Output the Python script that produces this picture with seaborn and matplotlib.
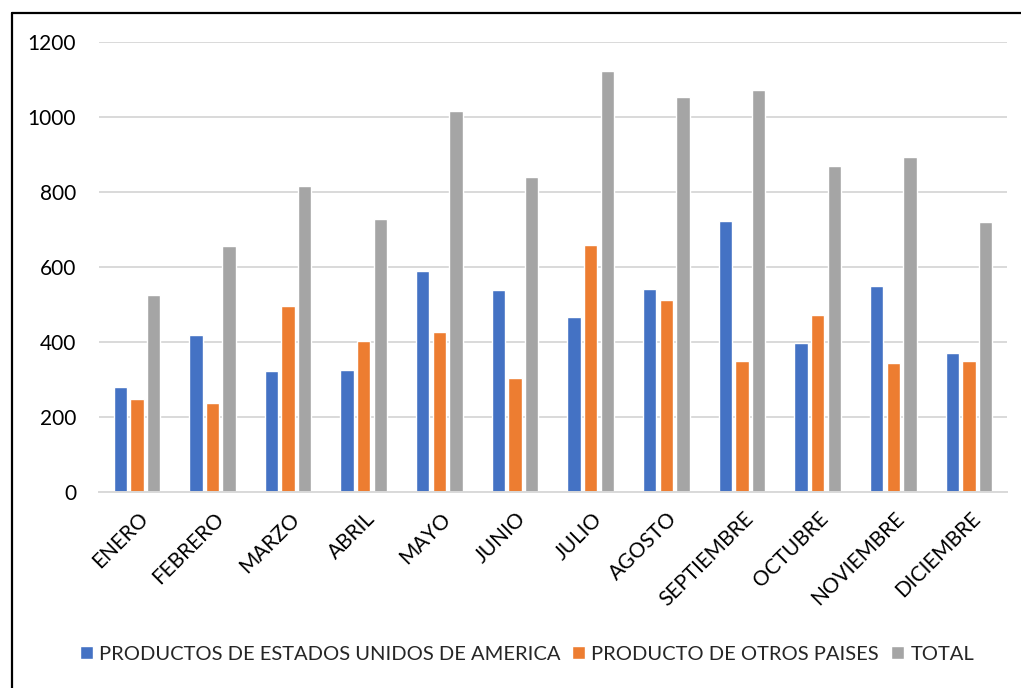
import numpy as np
import pandas as pd
import matplotlib
matplotlib.use("Agg")
import matplotlib.pyplot as plt
import matplotlib.transforms as mtransforms
from matplotlib.lines import Line2D
import seaborn as sns

# ── data ─────────────────────────────────────────────────────────────────────
meses = ["ENERO", "FEBRERO", "MARZO", "ABRIL", "MAYO", "JUNIO", "JULIO",
         "AGOSTO", "SEPTIEMBRE", "OCTUBRE", "NOVIEMBRE", "DICIEMBRE"]
usa = [279, 418, 321, 325, 589, 538, 466, 542, 724, 396, 550, 370]
otros = [247, 238, 495, 402, 427, 304, 659, 511, 348, 473, 344, 349]
total = [526, 655, 816, 727, 1017, 841, 1123, 1053, 1072, 870, 895, 719]
series = ["PRODUCTOS DE ESTADOS UNIDOS DE AMERICA",
          "PRODUCTO DE OTROS PAISES", "TOTAL"]
y_ticks = [0, 200, 400, 600, 800, 1000, 1200]

COLORS = ["#4472C4", "#ED7D31", "#A5A5A5"]

df = pd.DataFrame({"mes": meses * 3,
                   "serie": np.repeat(series, len(meses)),
                   "valor": usa + otros + total})

sns.set_theme(style="white")
plt.rcParams["font.family"] = ["Lato", "DejaVu Sans"]

fig = plt.figure(figsize=(10.21, 6.88), dpi=100)
ax = fig.add_axes([0.097, 0.2853, 0.889, 0.6532])

sns.barplot(data=df, x="mes", y="valor", hue="serie", order=meses,
            hue_order=series, palette=COLORS, width=0.66, gap=0.2,
            saturation=1, ax=ax, legend=True)

ax.set_ylim(0, 1200)
ax.set_xlim(-0.5, len(meses) - 0.5)
ax.set_yticks(y_ticks)
ax.set_yticklabels([str(t) for t in y_ticks], fontsize=15, color="#000000")
ax.yaxis.grid(True, color="#D9D9D9", lw=1.4)
ax.set_axisbelow(True)
ax.set_xlabel("")
ax.set_ylabel("")
for side in ["left", "right", "top"]:
    ax.spines[side].set_visible(False)
ax.spines["bottom"].set_color("#D9D9D9")
ax.spines["bottom"].set_linewidth(1.4)
ax.tick_params(axis="both", length=0)
ax.tick_params(axis="y", pad=16.5)

ax.set_xticks(range(len(meses)))
ax.set_xticklabels(meses, rotation=45, ha="right", va="center",
                   rotation_mode="anchor", fontsize=15, color="#000000")
offset = mtransforms.ScaledTranslation(8 / 100, -24 / 100, fig.dpi_scale_trans)
ax.tick_params(axis="x", pad=0)
for lbl in ax.get_xticklabels():
    lbl.set_transform(lbl.get_transform() + offset)

handles, labels = ax.get_legend_handles_labels()
ax.legend_.remove()
fig.legend(handles, labels, loc="center", bbox_to_anchor=(0.516, 0.049),
           ncol=3, frameon=False, fontsize=14.5, handlelength=0.65,
           handleheight=0.65, handletextpad=0.3, columnspacing=0.6)

# outer frame (left and top lines)
fig.add_artist(Line2D([0.0115, 0.0115], [0, 0.9805], color="black", lw=1.6,
                      transform=fig.transFigure))
fig.add_artist(Line2D([0.0115, 1.0], [0.9805, 0.9805], color="black", lw=1.6,
                      transform=fig.transFigure))

fig.savefig("out.png", dpi=100)
